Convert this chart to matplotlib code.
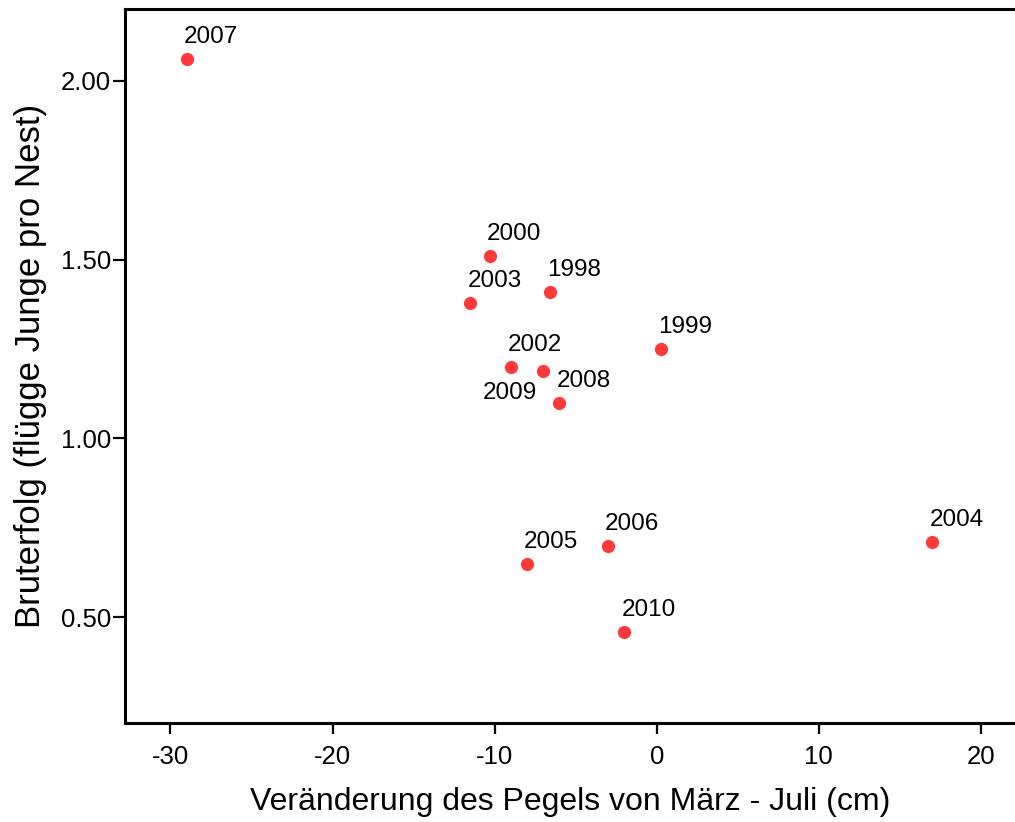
import matplotlib
matplotlib.use("Agg")
import matplotlib.pyplot as plt

plt.rcParams["font.family"] = ["Liberation Sans", "DejaVu Sans"]

# data
years = ["2007", "2000", "1998", "2003", "1999", "2002", "2009",
         "2008", "2006", "2005", "2004", "2010"]
pegel = [-29.0, -10.3, -6.6, -11.5, 0.25, -9.0, -7.0,
         -6.0, -3.0, -8.0, 17.0, -2.0]
bruterfolg = [2.06, 1.51, 1.41, 1.38, 1.25, 1.20, 1.19,
              1.10, 0.70, 0.65, 0.71, 0.46]
xticks = [-30, -20, -10, 0, 10, 20]
yticks = [0.50, 1.00, 1.50, 2.00]

fig = plt.figure(figsize=(10.15, 8.22), dpi=100)
ax = fig.add_axes([0.1232, 0.1204, 0.8768, 0.8686])

ax.scatter(pegel, bruterfolg, s=90, color="#ff3838", zorder=3, linewidths=0)

for yr, x, y in zip(years, pegel, bruterfolg):
    if yr == "2009":
        ax.annotate(yr, (x, y), xytext=(-6, -11), textcoords="offset pixels",
                    ha="right", va="top", fontsize=17.5)
    else:
        ax.annotate(yr, (x, y), xytext=(-3, 11), textcoords="offset pixels",
                    ha="left", va="bottom", fontsize=17.5)

ax.set_xlim(-32.8, 22.1)
ax.set_ylim(0.204, 2.201)
ax.set_xticks(xticks)
ax.set_xticklabels([str(t) for t in xticks])
ax.set_yticks(yticks)
ax.set_yticklabels([f"{t:.2f}" for t in yticks])

for side in ["left", "bottom", "top"]:
    ax.spines[side].set_linewidth(2.2)
ax.spines["right"].set_visible(False)

ax.tick_params(axis="x", length=8, width=1.6, pad=8, labelsize=18.5)
ax.tick_params(axis="y", length=9, width=1.6, pad=1, labelsize=18.5)

ax.set_xlabel("Veränderung des Pegels von März - Juli (cm)", fontsize=23, labelpad=13)
ax.set_ylabel("Bruterfolg (flügge Junge pro Nest)", fontsize=25, labelpad=10)

fig.savefig("out.png", dpi=100)
